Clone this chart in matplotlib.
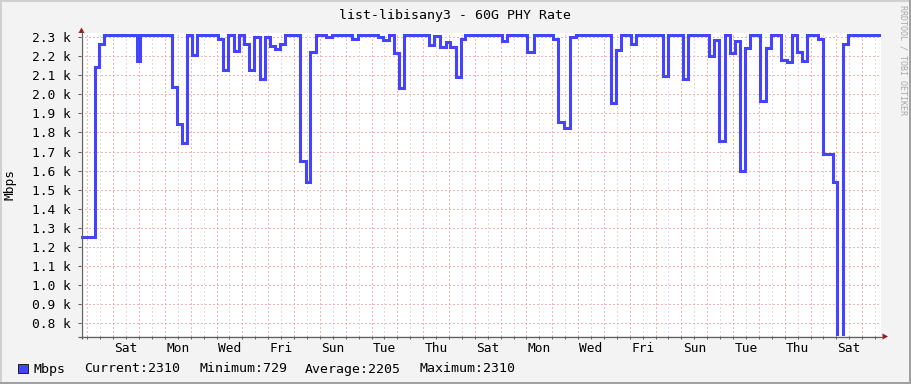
import matplotlib
matplotlib.use("Agg")
import matplotlib.pyplot as plt
from matplotlib.patches import Rectangle, Polygon

# ---------------- data ----------------
title = "list-libisany3 - 60G PHY Rate"
y_label = "Mbps"
watermark = "RRDTOOL / TOBI OETIKER"
day_names = ["Fri", "Sat", "Sun", "Mon", "Tue", "Wed", "Thu"]  # day 0 = Friday

# start of each step, in days since the left edge of the graph
step_start_days = [0.00, 0.54, 0.71, 0.90, 2.15, 2.30, 3.51, 3.71, 3.90, 4.12,
                   4.31, 4.50, 5.31, 5.50, 5.71, 5.91, 6.12, 6.30, 6.50, 6.71,
                   6.92, 7.12, 7.31, 7.50, 7.70, 7.91, 8.49, 8.70, 8.88, 9.11,
                   9.50, 9.71, 10.50, 10.72, 11.49, 11.69, 11.92, 12.11, 12.30, 12.52,
                   13.49, 13.68, 13.92, 14.14, 14.29, 14.52, 14.72, 14.88, 16.29, 16.51,
                   17.29, 17.55, 18.28, 18.49, 18.71, 18.93, 19.16, 20.52, 20.72, 20.91,
                   21.30, 21.51, 22.53, 22.72, 23.30, 23.51, 24.31, 24.50, 24.70, 24.93,
                   25.12, 25.32, 25.51, 25.71, 25.91, 26.30, 26.52, 26.71, 27.10, 27.33,
                   27.53, 27.72, 27.91, 28.11, 28.53, 28.73, 29.11, 29.29, 29.50, 29.72]
step_mbps = [1250, 2145, 2265, 2310, 2175, 2310, 2040, 1845, 1745, 2310,
             2205, 2310, 2290, 2128, 2310, 2227, 2310, 2262, 2128, 2300,
             2080, 2300, 2253, 2239, 2266, 2310, 1651, 1541, 2223, 2310,
             2300, 2310, 2291, 2310, 2300, 2284, 2310, 2214, 2033, 2310,
             2258, 2305, 2248, 2274, 2248, 2090, 2290, 2310, 2279, 2310,
             2221, 2310, 2290, 1854, 1824, 2300, 2310, 1956, 2232, 2310,
             2261, 2310, 2095, 2310, 2081, 2310, 2200, 2284, 1755, 2310,
             2214, 2279, 1597, 2244, 2310, 1964, 2240, 2310, 2179, 2169,
             2310, 2223, 2174, 2310, 2290, 1688, 1541, 729, 2266, 2310]
end_day = 30.98
first_midnight = 0.25          # days after graph start
y_ticks = [800, 900, 1000, 1100, 1200, 1300, 1400, 1500, 1600, 1700,
           1800, 1900, 2000, 2100, 2200, 2300]
legend_names = ["Current", "Minimum", "Average", "Maximum"]
legend_values = [2310, 729, 2205, 2310]

# ---------------- style ----------------
W, H = 911, 384
BG = "#F3F3F3"
LINE = "#4444FF"
MGRID = "#F4B4B4"
GRID = "#DCDCDC"
AXIS = "#606060"
ARROW = "#9A1A1A"
MONO = "DejaVu Sans Mono"

fig = plt.figure(figsize=(W / 100, H / 100), dpi=100, facecolor=BG)
L, R, T, B = 81, 881, 33, 336
ax = fig.add_axes([L / W, 1 - B / H, (R - L) / W, (B - T) / H])
ax.set_facecolor("white")
ax.set_xlim(0, end_day)
ax.set_ylim(734, 2321)
for s in ax.spines.values():
    s.set_visible(False)

# grid
n_half = int((end_day - first_midnight) / 0.5) + 1
half_days = [first_midnight + 0.5 * j for j in range(n_half)]
for j, xv in enumerate(half_days):
    ax.axvline(xv, color=MGRID if j % 2 == 0 else GRID, lw=0.75,
               ls=(0, (1, 2)), antialiased=False, zorder=1)
for yv in y_ticks:
    ax.axhline(yv, color=MGRID, lw=0.75, ls=(0, (1, 2)), antialiased=False, zorder=1)

# data line
xs = step_start_days + [end_day]
ys = step_mbps + [step_mbps[-1]]
ax.plot(xs, ys, drawstyle="steps-post", color=LINE, lw=2.2,
        solid_joinstyle="miter", zorder=3)

# ticks
label_pos = [first_midnight + k + 0.5 for k in range(1, 31, 2)
             if first_midnight + k + 0.5 < end_day]
label_txt = [day_names[k % 7] for k in range(1, 31, 2)
             if first_midnight + k + 0.5 < end_day]
ax.set_xticks(label_pos)
ax.set_xticklabels(label_txt, fontfamily=MONO, fontsize=9.3)
ax.set_xticks([h for h in half_days if h not in label_pos], minor=True)
ax.set_yticks(y_ticks)
ax.set_yticklabels([f"{v / 1000:.1f} k" for v in y_ticks], fontfamily=MONO, fontsize=9.3)
ax.tick_params(axis="both", which="both", direction="out", length=2.5,
               width=0.75, color=AXIS, labelcolor="black")
ax.tick_params(axis="x", pad=1.5)
ax.tick_params(axis="y", pad=5)

# overlay for frame, axis arrows and texts
ov = fig.add_axes([0, 0, 1, 1], zorder=5)
ov.set_xlim(0, W)
ov.set_ylim(H, 0)
ov.axis("off")
ov.patch.set_visible(False)

# 3D-ish border
ov.add_patch(Rectangle((0, 0), W, 1.5, color="#D0D0D0", lw=0))
ov.add_patch(Rectangle((0, 0), 1.5, H, color="#D0D0D0", lw=0))
ov.add_patch(Rectangle((0, H - 2.5), W, 2.5, color="#A0A0A0", lw=0))
ov.add_patch(Rectangle((W - 2.5, 0), 2.5, H, color="#A0A0A0", lw=0))

# axes with arrows
ov.plot([78, 883], [B + 0.5, B + 0.5], color=AXIS, lw=0.9, solid_capstyle="butt")
ov.plot([L + 0.5, L + 0.5], [B + 3, 31], color=AXIS, lw=0.9, solid_capstyle="butt")
ov.add_patch(Polygon([[882.5, B - 2.5], [888, B + 0.5], [882.5, B + 3.5]], closed=True,
                     color=ARROW, lw=0))
ov.add_patch(Polygon([[L - 2.5, 33], [L + 0.5, 27.5], [L + 3.5, 33]], closed=True,
                     color=ARROW, lw=0))

# title, axis label, watermark
ov.text(455, 18.5, title, ha="center", va="baseline", fontfamily=MONO, fontsize=9.5)
ov.text(10, (T + B) / 2, y_label, ha="center", va="center", rotation=90,
        fontfamily=MONO, fontsize=9.3)
ov.text(903, 5, watermark, ha="center", va="top", rotation=270,
        fontfamily=MONO, fontsize=6, color="#A8A8A8")

# legend
ov.add_patch(Rectangle((17.5, 363.5), 10, 9.5, facecolor=LINE, edgecolor="#202020", lw=0.7))
ov.text(34, 372.5, y_label, ha="left", va="baseline", fontfamily=MONO, fontsize=9.5)
leg_x = [84, 199, 305, 419]
for xv, name, val in zip(leg_x, legend_names, legend_values):
    ov.text(xv, 372.5, f"{name}:{val}", ha="left", va="baseline",
            fontfamily=MONO, fontsize=9.5)

fig.savefig("out.png", dpi=100, facecolor=BG)
